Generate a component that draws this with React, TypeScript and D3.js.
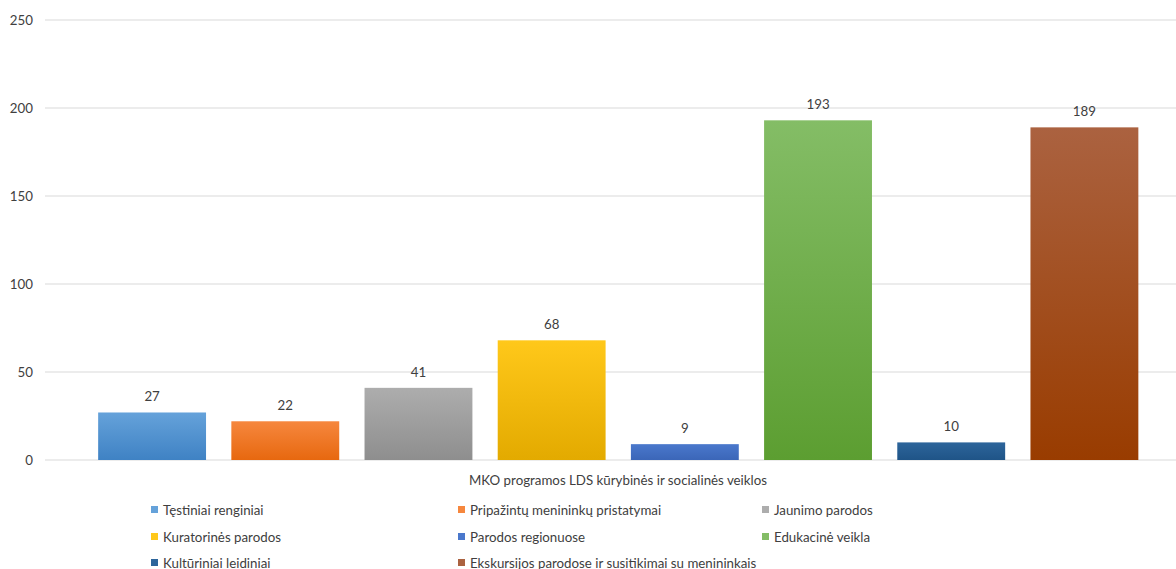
import React from "react";
import * as d3 from "d3";

const seriesNames = [
  "Tęstiniai renginiai",
  "Pripažintų menininkų pristatymai",
  "Jaunimo parodos",
  "Kuratorinės parodos",
  "Parodos regionuose",
  "Edukacinė veikla",
  "Kultūriniai leidiniai",
  "Ekskursijos parodose ir susitikimai su menininkais",
];
const seriesValues = [27, 22, 41, 68, 9, 193, 10, 189];
const topColors = ["#65a2da", "#f6873e", "#adadad", "#ffc81a", "#4a78cc", "#84bd66", "#2d659b", "#ab6240"];
const bottomColors = ["#3f82c4", "#e7680f", "#8e8e8e", "#e3aa00", "#3b66b8", "#5c9e31", "#1f5487", "#993c00"];
const yTicks = [0, 50, 100, 150, 200, 250];
const categoryLabel = "MKO programos LDS kūrybinės ir socialinės veiklos";

export default function App() {
  const W = 1176, H = 569;
  const y = d3.scaleLinear().domain([0, 250]).range([460, 20]);
  const x = d3.scaleBand<string>().domain(seriesNames).range([85.5, 1151]).paddingInner(0.19).paddingOuter(0.095);
  const font = "Lato, 'Open Sans', 'Liberation Sans', sans-serif";
  const fs = 13.3;
  const legendCols = [151, 458, 762];
  const legendRows = [510, 537, 563];
  return (
    <svg width={W} height={H} style={{ position: "absolute", left: 0, top: 0, background: "#fff" }}>
      <defs>
        {seriesNames.map((_, i) => (
          <linearGradient key={i} id={`g${i}`} x1="0" y1="0" x2="0" y2="1">
            <stop offset="0%" stopColor={topColors[i]} />
            <stop offset="100%" stopColor={bottomColors[i]} />
          </linearGradient>
        ))}
      </defs>
      {yTicks.map((t) => (
        <g key={t}>
          <line x1={45} x2={W} y1={y(t)} y2={y(t)} stroke="#d9d9d9" strokeWidth={1} />
          <text x={33} y={y(t)} dy="0.35em" textAnchor="end" fontFamily={font} fontSize={fs} fill="#404040">
            {t}
          </text>
        </g>
      ))}
      {seriesNames.map((s, i) => (
        <g key={s}>
          <rect x={x(s)} y={y(seriesValues[i])} width={x.bandwidth()} height={y(0) - y(seriesValues[i])} fill={`url(#g${i})`} />
          <text x={(x(s) as number) + x.bandwidth() / 2} y={y(seriesValues[i]) - 11} textAnchor="middle" fontFamily={font} fontSize={fs} fill="#404040">
            {seriesValues[i]}
          </text>
        </g>
      ))}
      <text x={618} y={480} dy="0.35em" textAnchor="middle" fontFamily={font} fontSize={fs} fill="#404040">
        {categoryLabel}
      </text>
      {seriesNames.map((s, i) => {
        const cx = legendCols[i % 3];
        const cy = legendRows[Math.floor(i / 3)];
        return (
          <g key={"l" + i}>
            <rect x={cx} y={cy - 4} width={7} height={7} fill={topColors[i]} />
            <text x={cx + 12} y={cy} dy="0.35em" fontFamily={font} fontSize={fs} fill="#404040">
              {s}
            </text>
          </g>
        );
      })}
    </svg>
  );
}
